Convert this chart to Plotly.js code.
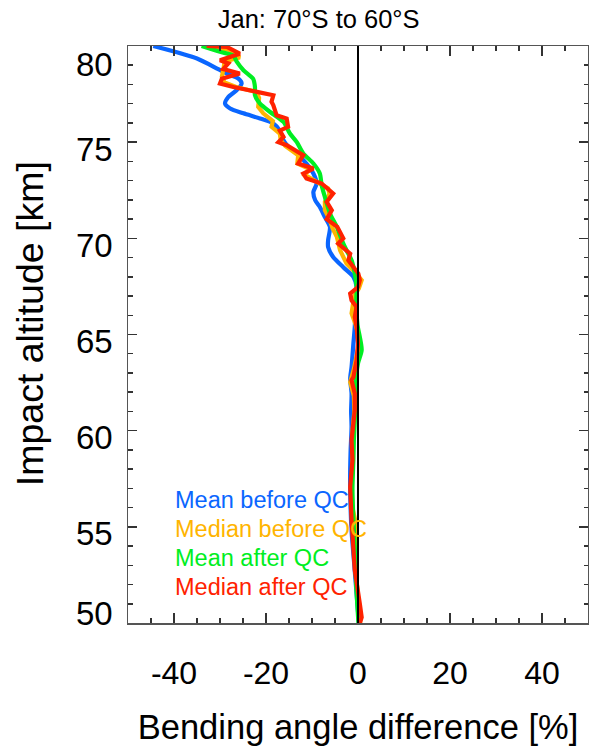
<!DOCTYPE html>
<html><head><meta charset="utf-8">
<script src="https://cdn.plot.ly/plotly-3.0.1.min.js"></script>
<style>html,body{margin:0;padding:0;background:#fff}#chart{width:589px;height:749px}</style>
</head><body><div id="chart"></div>
<script>
const seriesNames = ['Mean before QC', 'Median before QC', 'Mean after QC', 'Median after QC'];
const seriesColors = ['#0a66ff', '#ffb400', '#00ee22', '#ff2200'];

const altMeanBefore = [80.0,79.35,78.8,78.57,78.3,78.05,77.7,77.35,77.0,76.75,76.5,76.23,75.97,75.6,75.1,74.8,74.41,73.89,73.37,72.85,72.41,71.98,71.63,71.11,70.59,69.9,69.55,69.03,68.5,68.0,67.47,66.5,65.39,64.53,63.31,62.71,61.93,61.0,60.2,59.0,58.0,56.9,54.8,53.0,51.5,50.0];
const meanBefore    = [-44.5,-35,-30.4,-28.5,-26,-25.3,-26.4,-28.2,-28.9,-27.8,-24.9,-21.3,-18.4,-17,-16.2,-15.3,-13.3,-11.2,-9.7,-9.0,-9.7,-9.3,-8.3,-7.2,-6.1,-6.5,-6.5,-5.4,-3.2,-1.0,-0.3,-0.5,-0.7,-1.0,-1.4,-1.7,-1.4,-1.5,-1.4,-1.6,-1.7,-1.7,-1.4,-0.8,-0.3,0.2];

const altMedianBefore = [80.0,79.8,79.4,79.2,78.74,78.4,78.1,77.87,77.6,77.3,76.83,76.5,76.1,75.8,75.45,75.1,74.8,74.32,73.89,73.6,73.3,73.0,72.6,72.3,71.9,71.46,71.0,70.5,70.08,69.38,68.69,68.2,67.82,67.4,67.0,66.1,65.5,64.7,64.0,63.2,62.53,61.8,61.0,60.0,59.0,58.0,57.0,56.0,55.0,53.0,51.5,50.0];
const medianBefore    = [-33.5,-28,-25.7,-29,-29.3,-29.6,-29,-26.5,-22,-21.5,-21.7,-20.6,-18.5,-18.8,-17,-16.8,-15.8,-13,-13.2,-10.5,-11.6,-9.5,-6.5,-6.2,-7.2,-7.2,-6.2,-5.5,-4.6,-3.9,-2.5,-0.5,0.8,0.2,-0.8,-1.4,-0.5,0.4,-0.2,-0.9,-1.7,-0.9,-0.8,-1.2,-1.1,-1.2,-1.4,-1.2,-0.3,-0.6,0.0,0.5];

const altMeanAfter = [80.0,79.7,79.5,79.2,78.74,78.3,77.87,77.44,77.0,76.57,76.05,75.45,75.0,74.41,73.89,73.37,72.76,72.15,71.29,70.59,69.9,69.38,68.86,68.17,67.47,66.5,65.5,64.2,63.5,62.5,61.5,60.5,59.5,58.5,57.0,55.35,53.5,52.0,50.0];
const meanAfter    = [-34,-30,-27.1,-26.4,-24.9,-22.8,-22.4,-22.4,-21.3,-19.1,-16.2,-14.8,-13.3,-11.9,-9.7,-8.3,-7.9,-7.2,-6.1,-4.6,-3.5,-2.5,-1.4,-0.7,-0.3,-0.4,-0.1,0.8,0.0,-0.5,-0.6,-0.7,-0.9,-1.0,-1.2,-1.0,-0.6,-0.4,0.1];

const altMedianAfter = [80.0,79.95,79.6,79.26,79.1,78.8,78.57,78.3,78.05,77.87,77.44,77.1,76.92,76.4,76.23,75.8,75.6,75.27,75.0,74.84,74.32,73.89,73.63,73.37,73.11,72.85,72.33,71.9,71.46,71.0,70.6,70.0,69.73,69.2,68.86,68.5,68.17,67.82,67.47,67.13,66.78,66.43,65.91,65.39,64.53,63.66,62.79,62.62,61.93,61.06,60.54,59.5,58.46,57.95,57.08,55.35,52.75,51.0,50.3,50.0];
const medianAfter    = [-32.9,-28.5,-25.7,-30,-28.2,-29.3,-25.7,-29.6,-30,-27.1,-18.4,-18.8,-18.4,-17.7,-15.5,-15.2,-17,-16.2,-17.3,-15.5,-11.9,-13,-9.7,-11.9,-11.2,-7.9,-5.4,-6.8,-5.7,-6.8,-4.5,-3.2,-4.3,-1.7,-2.1,-1.0,0.07,0.4,0.0,-1.7,-1.4,-0.3,-0.7,-0.3,0.0,-0.3,-1.0,-1.4,-0.7,-0.7,-1.0,-1.4,-1.2,-1.4,-1.7,-1.4,-0.7,0.4,0.8,0.4];

const xTickVals = [-40, -20, 0, 20, 40];
const xTickText = ['-40', '-20', '0', '20', '40'];
const yTickVals = [50, 55, 60, 65, 70, 75, 80];
const yTickText = ['50', '55', '60', '65', '70', '75', '80'];
const yTitle = 'Impact altitude [km]';

const FONT = 'Liberation Sans, Arial, Helvetica, sans-serif';
const xs = [meanBefore, medianBefore, meanAfter, medianAfter];
const ys = [altMeanBefore, altMedianBefore, altMeanAfter, altMedianAfter];
const smooth = [true, false, true, false];

const traces = xs.map((x, i) => ({
  type: 'scatter', mode: 'lines', x: x, y: ys[i], name: seriesNames[i],
  line: smooth[i] ? {color: seriesColors[i], width: 4.2, shape: 'spline', smoothing: 0.7}
                  : {color: seriesColors[i], width: 4.2},
  showlegend: false, hoverinfo: 'skip'
}));

const annotations = [];
yTickVals.forEach((v, i) => {
  annotations.push({
    xref: 'paper', yref: 'y', x: 0, y: v, text: yTickText[i], showarrow: false,
    xanchor: 'right', yanchor: 'middle', xshift: -13,
    yshift: v === 80 ? -18 : (v === 50 ? 10 : -7),
    font: {family: FONT, size: 33, color: '#000'}
  });
});
seriesNames.forEach((n, i) => {
  annotations.push({
    xref: 'paper', yref: 'paper', x: 0.102, y: 0.2127 - i * 0.0503, text: n, showarrow: false,
    xanchor: 'left', yanchor: 'middle', xshift: -2,
    font: {family: FONT, size: 23.5, color: seriesColors[i]}
  });
});
annotations.push({
  xref: 'paper', yref: 'paper', x: 0, y: 0.5178, xshift: -98, text: yTitle, showarrow: false,
  textangle: -90, xanchor: 'center', yanchor: 'middle',
  font: {family: FONT, size: 37.5, color: '#000'}
});

const axisCommon = {
  showgrid: false, zeroline: false, showline: true, linecolor: '#555', linewidth: 1.5,
  mirror: 'allticks', ticks: 'inside', tickcolor: '#333', tickwidth: 1.5
};

const layout = {
  width: 589, height: 749,
  margin: {l: 128, r: 1, t: 46, b: 126},
  paper_bgcolor: '#fff', plot_bgcolor: '#fff',
  font: {family: FONT, color: '#000'},
  title: {text: 'Jan: 70°S to 60°S', font: {family: FONT, size: 25.5, color: '#000'},
          xref: 'container', x: 0.541, xanchor: 'center', yref: 'container', y: 0.975, yanchor: 'middle'},
  xaxis: Object.assign({}, axisCommon, {
    range: [-50, 50], tickvals: xTickVals, ticktext: xTickText, ticklen: 10,
    minor: {dtick: 5, tick0: 0, ticks: 'inside', ticklen: 5, tickcolor: '#333', tickwidth: 1.5},
    tickfont: {family: FONT, size: 32, color: '#000'}, ticklabelstandoff: 21,
    title: {text: 'Bending angle difference [%]', font: {family: FONT, size: 34.5, color: '#000'}, standoff: 25}
  }),
  yaxis: Object.assign({}, axisCommon, {
    range: [50, 80], tickvals: yTickVals, ticklen: 9, showticklabels: false,
    minor: {dtick: 1, tick0: 0, ticks: 'inside', ticklen: 4.5, tickcolor: '#333', tickwidth: 1.5}
  }),
  shapes: [{type: 'line', xref: 'x', yref: 'paper', x0: 0, x1: 0, y0: 0, y1: 1,
            line: {color: '#000', width: 2}, layer: 'above'}],
  annotations: annotations
};

Plotly.newPlot('chart', traces, layout, {staticPlot: true, displayModeBar: false});
</script>
</body></html>
